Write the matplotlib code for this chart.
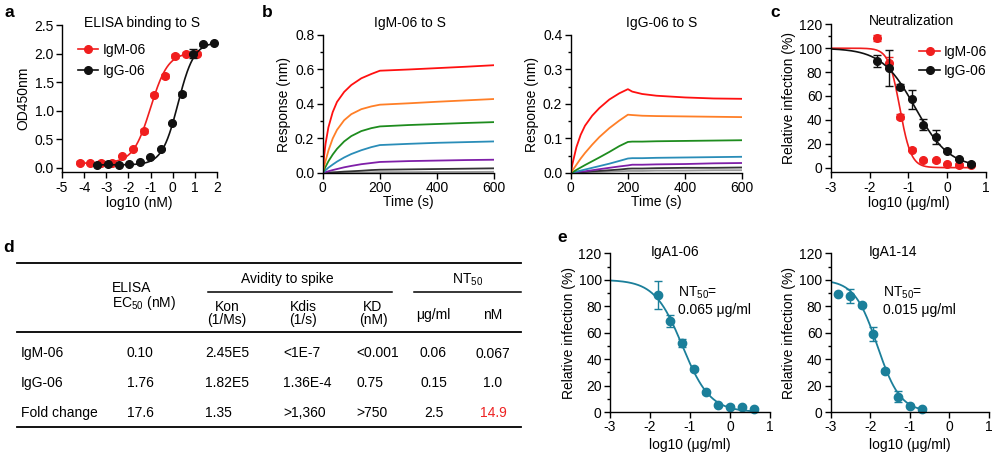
import numpy as np
import matplotlib
matplotlib.use('Agg')
import matplotlib.pyplot as plt
from matplotlib.ticker import MultipleLocator

plt.rcParams['font.family'] = ['Liberation Sans', 'DejaVu Sans']
plt.rcParams['mathtext.fontset'] = 'custom'
plt.rcParams['mathtext.rm'] = 'Liberation Sans'
plt.rcParams['font.size'] = 10
plt.rcParams['axes.linewidth'] = 1.0
plt.rcParams['axes.unicode_minus'] = False

# ---------------- data ----------------
# a: ELISA binding (log10 nM vs OD450)
elisa_igm_x = [-4.2, -3.72, -3.24, -2.74, -2.27, -1.79, -1.31, -0.83, -0.36, 0.11, 0.59, 1.10]
elisa_igm_y = [0.09, 0.08, 0.09, 0.09, 0.20, 0.33, 0.64, 1.28, 1.61, 1.96, 2.00, 2.00]
elisa_igm_err = [0.02, 0.02, 0.02, 0.02, 0.02, 0.02, 0.03, 0.03, 0.03, 0.03, 0.03, 0.03]
elisa_igg_x = [-3.42, -2.94, -2.44, -1.96, -1.49, -1.01, -0.53, -0.05, 0.42, 0.90, 1.39, 1.88]
elisa_igg_y = [0.05, 0.06, 0.05, 0.06, 0.10, 0.19, 0.33, 0.78, 1.29, 2.00, 2.16, 2.18]
elisa_igg_err = [0.01, 0.01, 0.01, 0.01, 0.01, 0.02, 0.02, 0.02, 0.03, 0.08, 0.03, 0.02]
# 4PL fit parameters: bottom, top, logEC50, hill
elisa_igm_fit = (0.08, 2.02, -1.0, 1.1)
elisa_igg_fit = (0.05, 2.2, 0.24, 1.2)

# b: BLI sensorgrams (time s, response nm), highest to lowest concentration
bli_colors = ['#ff1010', '#ff7f27', '#1e8c1e', '#2a8db8', '#7f1fa8', '#333333', '#999999']
igm_t = [0, 5, 10, 20, 35, 50, 75, 100, 135, 170, 200, 300, 400, 500, 600]
igm_resp = [
    [0, 0.10, 0.17, 0.265, 0.353, 0.412, 0.47, 0.51, 0.549, 0.574, 0.593, 0.600, 0.608, 0.616, 0.625],
    [0, 0.04, 0.07, 0.13, 0.20, 0.25, 0.306, 0.341, 0.37, 0.386, 0.396, 0.404, 0.413, 0.421, 0.429],
    [0, 0.018, 0.036, 0.068, 0.107, 0.14, 0.183, 0.214, 0.243, 0.260, 0.270, 0.278, 0.284, 0.290, 0.295],
    [0, 0.008, 0.016, 0.031, 0.049, 0.066, 0.090, 0.110, 0.132, 0.150, 0.162, 0.169, 0.175, 0.179, 0.183],
    [0, 0.003, 0.005, 0.010, 0.017, 0.023, 0.033, 0.041, 0.051, 0.058, 0.064, 0.069, 0.072, 0.075, 0.077],
    [0, 0.001, 0.001, 0.002, 0.004, 0.005, 0.008, 0.010, 0.013, 0.017, 0.019, 0.021, 0.023, 0.025, 0.027],
    [0, 0.000, 0.000, 0.001, 0.001, 0.001, 0.002, 0.003, 0.003, 0.004, 0.005, 0.005, 0.006, 0.006, 0.007],
]
igg_t = [0, 5, 10, 20, 35, 50, 75, 100, 135, 170, 200, 215, 250, 300, 400, 500, 600]
igg_resp = [
    [0, 0.022, 0.040, 0.075, 0.111, 0.137, 0.166, 0.188, 0.213, 0.231, 0.243, 0.236, 0.229, 0.224, 0.219, 0.216, 0.215],
    [0, 0.006, 0.012, 0.024, 0.042, 0.058, 0.082, 0.104, 0.130, 0.152, 0.169, 0.168, 0.166, 0.165, 0.164, 0.163, 0.162],
    [0, 0.002, 0.004, 0.009, 0.016, 0.023, 0.034, 0.045, 0.061, 0.078, 0.090, 0.091, 0.091, 0.092, 0.093, 0.094, 0.095],
    [0, 0.001, 0.002, 0.004, 0.007, 0.010, 0.015, 0.020, 0.027, 0.035, 0.042, 0.043, 0.043, 0.044, 0.045, 0.046, 0.047],
    [0, 0.001, 0.001, 0.002, 0.004, 0.005, 0.008, 0.011, 0.015, 0.019, 0.022, 0.024, 0.024, 0.025, 0.026, 0.028, 0.029],
    [0, 0.000, 0.001, 0.001, 0.002, 0.003, 0.005, 0.006, 0.008, 0.010, 0.0125, 0.013, 0.013, 0.014, 0.015, 0.015, 0.016],
    [0, 0.000, 0.000, 0.001, 0.001, 0.001, 0.002, 0.003, 0.004, 0.005, 0.006, 0.006, 0.006, 0.007, 0.007, 0.008, 0.008],
]

# c: neutralization (log10 ug/ml vs relative infection %)
neut_x = [-1.82, -1.51, -1.21, -0.91, -0.61, -0.30, 0.0, 0.30, 0.61]
neut_igm_y = [108.3, 87.9, 42.7, 15.1, 6.1, 6.1, 3.1, 2.5, 2.5]
neut_igm_err = [2.5, 5.0, 2.0, 1.0, 1.0, 1.0, 1.0, 1.0, 1.0]
neut_igg_y = [89.3, 83.4, 67.8, 57.2, 36.0, 25.7, 14.2, 7.3, 3.1]
neut_igg_err = [5.0, 15.0, 2.0, 8.0, 4.7, 5.9, 1.5, 1.0, 1.0]
neut_igm_fit = (0, 100, -1.22, 3.0)
neut_igg_fit = (0, 100, -0.82, 1.0)

# d: table
col_headers = ['Kon\n(1/Ms)', 'Kdis\n(1/s)', 'KD\n(nM)']
row_names = ['IgM-06', 'IgG-06', 'Fold change']
elisa_ec50 = ['0.10', '1.76', '17.6']
kon = ['2.45E5', '1.82E5', '1.35']
kdis = ['<1E-7', '1.36E-4', '>1,360']
kd = ['<0.001', '0.75', '>750']
nt50_ugml = ['0.06', '0.15', '2.5']
nt50_nm = ['0.067', '1.0', '14.9']

# e: IgA1 neutralization
iga06_x = [-1.80, -1.49, -1.20, -0.91, -0.61, -0.31, -0.01, 0.29, 0.60]
iga06_y = [88.4, 69.1, 51.9, 32.3, 14.9, 5.3, 4.0, 3.8, 2.3]
iga06_err = [10.8, 4.5, 3.0, 1.5, 1.0, 1.0, 1.0, 1.0, 1.0]
iga06_fit = (0, 100, -1.19, 1.25)
iga14_x = [-2.82, -2.51, -2.21, -1.92, -1.62, -1.31, -1.0, -0.70]
iga14_y = [89.2, 87.7, 80.9, 59.0, 31.0, 11.6, 4.5, 2.0]
iga14_err = [1.0, 5.0, 1.5, 5.0, 1.5, 4.0, 1.0, 1.0]
iga14_fit = (0, 100, -1.82, 1.5)

# ---------------- helpers ----------------
W, H = 996, 458
fig = plt.figure(figsize=(W / 100, H / 100), dpi=100)


def box(l, t, r, b):
    return [l / W, 1 - b / H, (r - l) / W, (b - t) / H]


def rising(x, p):
    bottom, top, logc, hill = p
    return bottom + (top - bottom) / (1 + 10 ** (hill * (logc - x)))


def falling(x, p):
    bottom, top, logc, hill = p
    return bottom + (top - bottom) / (1 + 10 ** (hill * (x - logc)))


def style(ax):
    for s in ['top', 'right']:
        ax.spines[s].set_visible(False)
    ax.tick_params(direction='out', length=4, width=1, labelsize=10, pad=2)
    ax.tick_params(which='minor', direction='out', length=2.5, width=1)


teal = '#1b7f9a'
red = '#f01e1e'
blk = '#111111'

# ---------------- panel a ----------------
ax = fig.add_axes(box(62, 25, 217, 172.3))
style(ax)
for xs, ys, es, p, c, lab in [(elisa_igm_x, elisa_igm_y, elisa_igm_err, elisa_igm_fit, red, 'IgM-06'),
                              (elisa_igg_x, elisa_igg_y, elisa_igg_err, elisa_igg_fit, blk, 'IgG-06')]:
    xx = np.linspace(xs[0], xs[-1], 200)
    ax.plot(xx, rising(xx, p), color=c, lw=1.2)
    ax.errorbar(xs, ys, yerr=es, fmt='none', ecolor=c, elinewidth=1, capsize=3)
    ax.plot(xs, ys, 'o', color=c, ms=5.5, clip_on=False)
    ax.plot([], [], '-o', color=c, ms=5.5, lw=1.2, label=lab)
ax.set_xlim(-5, 2)
ax.set_ylim(-0.08, 2.5)
ax.set_xticks(range(-5, 3))
ax.set_xticklabels([str(v) for v in range(-5, 3)])
ax.set_yticks([0, 0.5, 1.0, 1.5, 2.0, 2.5])
ax.set_yticklabels(['0.0', '0.5', '1.0', '1.5', '2.0', '2.5'])
ax.set_xlabel('log10 (nM)', labelpad=1)
ax.set_ylabel('OD450nm', labelpad=3)
ax.text(0.516, 1.014, 'ELISA binding to S', transform=ax.transAxes, ha='center', va='center', fontsize=10)
ax.legend(loc='upper left', bbox_to_anchor=(0.1, 0.88), frameon=False, handlelength=1.5,
          handletextpad=0.3, borderpad=0, borderaxespad=0, labelspacing=0.55, fontsize=10)

# ---------------- panel b ----------------
for l, r, ts, curves, ymax, major, minor, title, tx in [
        (322.7, 494.3, igm_t, igm_resp, 0.8, 0.2, 0.1, 'IgM-06 to S', 0.509),
        (570.7, 742.3, igg_t, igg_resp, 0.4, 0.1, 0.05, 'IgG-06 to S', 0.532)]:
    ax = fig.add_axes(box(l, 35, r, 173))
    style(ax)
    for resp, c in zip(curves[::-1], bli_colors[::-1]):
        ax.plot(ts, resp, color=c, lw=1.3)
    ax.set_xlim(0, 600)
    ax.set_ylim(0, ymax)
    ax.set_xticks([0, 200, 400, 600])
    ax.yaxis.set_major_locator(MultipleLocator(major))
    ax.yaxis.set_minor_locator(MultipleLocator(minor))
    ax.set_yticklabels([f'{v:.1f}' for v in ax.get_yticks()])
    ax.set_xlabel('Time (s)', labelpad=0)
    ax.set_ylabel('Response (nm)', labelpad=3)
    ax.text(tx, 1.09, title, transform=ax.transAxes, ha='center', va='center', fontsize=10)

# ---------------- panel c ----------------
ax = fig.add_axes(box(830.7, 24.3, 986, 172.3))
style(ax)
for ys, es, p, c, lab in [(neut_igm_y, neut_igm_err, neut_igm_fit, red, 'IgM-06'),
                          (neut_igg_y, neut_igg_err, neut_igg_fit, blk, 'IgG-06')]:
    xx = np.linspace(-3, 0.61, 300)
    ax.plot(xx, falling(xx, p), color=c, lw=1.2)
    ax.errorbar(neut_x, ys, yerr=es, fmt='none', ecolor=c, elinewidth=1, capsize=3)
    ax.plot(neut_x, ys, 'o', color=c, ms=5.5, clip_on=False)
    ax.plot([], [], '-o', color=c, ms=5.5, lw=1.2, label=lab)
ax.set_xlim(-3, 1)
ax.set_ylim(-3.9, 120)
ax.set_xticks([-3, -2, -1, 0, 1])
ax.yaxis.set_major_locator(MultipleLocator(20))
ax.yaxis.set_minor_locator(MultipleLocator(10))
ax.set_xlabel('log10 (\u03bcg/ml)', labelpad=1)
ax.set_ylabel('Relative infection (%)', labelpad=2)
ax.text(0.522, 1.024, 'Neutralization', transform=ax.transAxes, ha='center', va='center', fontsize=10)
ax.legend(loc='upper left', bbox_to_anchor=(0.57, 0.86), frameon=False, handlelength=1.5,
          handletextpad=0.3, borderpad=0, borderaxespad=0, labelspacing=0.35, fontsize=10)

# ---------------- panel d (table) ----------------
tb = fig.add_axes([0, 0, 1, 1])
tb.set_xlim(0, W)
tb.set_ylim(H, 0)
tb.axis('off')
tb.plot([17, 521], [262.7, 262.7], color='k', lw=1.3)
tb.plot([17, 521], [331.7, 331.7], color='k', lw=1.3)
tb.plot([17, 521], [427.3, 427.3], color='k', lw=1.3)
tb.plot([208, 392], [291.7, 291.7], color='k', lw=1.1)
tb.plot([414, 521], [291.7, 291.7], color='k', lw=1.1)
tb.text(287, 279.3, 'Avidity to spike', ha='center', va='center')
tb.text(468, 279.3, 'NT$_{50}$', ha='center', va='center')
tb.text(112, 288.3, 'ELISA', ha='left', va='center')
tb.text(112, 303.3, 'EC$_{50}$ (nM)', ha='left', va='center')
for cx, h in zip([227, 303.5, 373], col_headers):
    tb.text(cx, 313.5, h, ha='center', va='center', linespacing=0.95)
tb.text(433.5, 315, '\u03bcg/ml', ha='center', va='center')
tb.text(492.5, 315, 'nM', ha='center', va='center')
row_y = [352.7, 383.3, 412.7]
for i, ry in enumerate(row_y):
    tb.text(20.7, ry, row_names[i], ha='left', va='center')
    tb.text(126.7, ry, elisa_ec50[i], ha='left', va='center')
    tb.text(205, ry, kon[i], ha='left', va='center')
    tb.text(283, ry, kdis[i], ha='left', va='center')
    tb.text(356.7, ry, kd[i], ha='left', va='center')
    tb.text(433.5, ry, nt50_ugml[i], ha='center', va='center')
    tb.text(493, ry + (1.5 if i == 0 else 0), nt50_nm[i], ha='center', va='center',
            color='#ee2222' if i == 2 else 'k')

# ---------------- panel e ----------------
for l, r, xs, ys, es, p, title, tx, nx, nt in [
        (610, 770, iga06_x, iga06_y, iga06_err, iga06_fit, 'IgA1-06', 0.406, 0.427, '0.065 \u03bcg/ml'),
        (830.7, 989, iga14_x, iga14_y, iga14_err, iga14_fit, 'IgA1-14', 0.395, 0.332, '0.015 \u03bcg/ml')]:
    ax = fig.add_axes(box(l, 253.3, r, 412))
    style(ax)
    xx = np.linspace(-3, xs[-1], 300)
    ax.plot(xx, falling(xx, p), color=teal, lw=1.3)
    ax.errorbar(xs, ys, yerr=es, fmt='none', ecolor=teal, elinewidth=1, capsize=3)
    ax.plot(xs, ys, 'o', color=teal, ms=6, clip_on=False)
    ax.set_xlim(-3, 1)
    ax.set_ylim(0, 120)
    ax.set_xticks([-3, -2, -1, 0, 1])
    ax.yaxis.set_major_locator(MultipleLocator(20))
    ax.yaxis.set_minor_locator(MultipleLocator(10))
    ax.set_xlabel('log10 (\u03bcg/ml)', labelpad=3)
    ax.set_ylabel('Relative infection (%)', labelpad=2)
    ax.text(tx, 1.01, title, transform=ax.transAxes, ha='center', va='center', fontsize=10)
    ax.text(nx, 0.748, 'NT$_{50}$=', transform=ax.transAxes, ha='left', va='center', fontsize=10)
    ax.text(nx, 0.643, nt, transform=ax.transAxes, ha='left', va='center', fontsize=10)

# ---------------- panel letters ----------------
for lx, ly, s in [(9, 17.3, 'a'), (267.5, 17.3, 'b'), (775, 17.3, 'c'), (8.7, 251.7, 'd'), (561.7, 242.3, 'e')]:
    fig.text(lx / W, 1 - ly / H, s, ha='center', va='baseline', fontsize=12.5, fontweight='bold')

fig.savefig('out.png', dpi=100)
